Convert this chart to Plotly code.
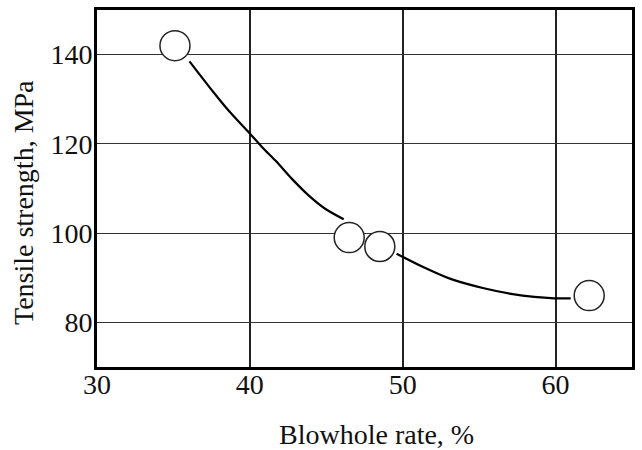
import plotly.graph_objects as go

# Measured data points (Blowhole rate %, Tensile strength MPa)
blowhole = [35.1, 46.5, 48.5, 62.2]
strength = [142.0, 99.0, 97.0, 86.0]

# Trend curve (two visible segments between markers)
curve1_x = [36.05, 37.57, 38.65, 39.95, 40.82, 41.69, 42.77, 43.86, 44.95, 46.14]
curve1_y = [138.5, 131.8, 127.3, 122.5, 119.2, 116.2, 112.1, 108.4, 105.4, 103.1]
curve2_x = [49.60, 51.34, 53.08, 55.24, 57.09, 58.61, 59.91, 60.99]
curve2_y = [95.4, 92.4, 89.8, 87.7, 86.4, 85.7, 85.4, 85.4]

x_ticks = [30, 40, 50, 60]
y_ticks = [80, 100, 120, 140]

FONT = "Liberation Serif"
FS = 28

fig = go.Figure()
fig.add_trace(go.Scatter(x=curve1_x, y=curve1_y, mode="lines",
                         line=dict(color="black", width=2.2, shape="spline", smoothing=0.8),
                         hoverinfo="skip", showlegend=False))
fig.add_trace(go.Scatter(x=curve2_x, y=curve2_y, mode="lines",
                         line=dict(color="black", width=2.2, shape="spline", smoothing=0.8),
                         hoverinfo="skip", showlegend=False))
fig.add_trace(go.Scatter(x=blowhole, y=strength, mode="markers",
                         marker=dict(size=30, color="white",
                                     line=dict(color="#222", width=1.5)),
                         showlegend=False))

fig.update_layout(
    width=642, height=450,
    margin=dict(l=97, r=7, t=7, b=83),
    paper_bgcolor="white", plot_bgcolor="white",
    font=dict(family=FONT, size=FS, color="#111"),
    xaxis=dict(range=[30, 65], tickvals=x_ticks, showgrid=True,
               gridcolor="#222", gridwidth=1.5, zeroline=False,
               showline=True, linecolor="black", linewidth=3, mirror=True,
               ticks="", ticklabelstandoff=-10,
               tickfont=dict(family=FONT, size=FS, color="#111")),
    yaxis=dict(range=[70, 150], tickvals=y_ticks, showgrid=True,
               gridcolor="#333", gridwidth=1, zeroline=False,
               showline=True, linecolor="black", linewidth=3, mirror=True,
               ticks="", ticklabelstandoff=-4,
               tickfont=dict(family=FONT, size=FS, color="#111")),
    annotations=[
        dict(text="Blowhole rate, %", xref="paper", yref="paper",
             x=0.522, y=-0.19, xanchor="center", yanchor="middle",
             showarrow=False, font=dict(family=FONT, size=FS, color="#111")),
        dict(text="Tensile strength, MPa", xref="paper", yref="paper",
             x=-0.136, y=0.46, xanchor="center", yanchor="middle",
             textangle=-90, showarrow=False,
             font=dict(family=FONT, size=FS, color="#111")),
    ],
)

fig.write_html("out.html", config={"displayModeBar": False},
               post_script="document.body.style.margin='0px';")
